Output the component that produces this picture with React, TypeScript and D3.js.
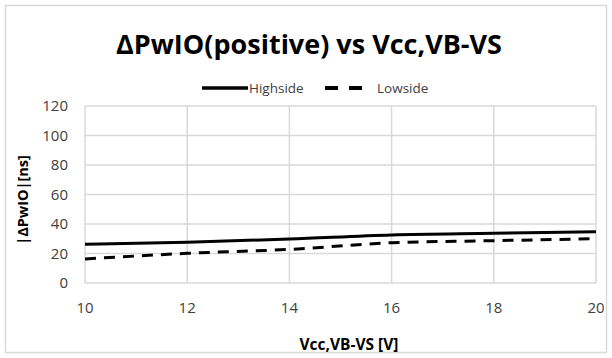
import React from "react";
import * as d3 from "d3";

const xValues = [10, 12, 14, 16, 18, 20];
const highside = [26.2, 27.6, 29.8, 32.6, 33.7, 34.8];
const lowside = [16.3, 20.1, 22.8, 27.3, 28.7, 30.0];
const yTicks = [0, 20, 40, 60, 80, 100, 120];
const xTicks = [10, 12, 14, 16, 18, 20];
const seriesNames = ["Highside", "Lowside"];

const W = 612;
const H = 358;
const plot = { left: 85, right: 596, top: 106, bottom: 283 };
const FONT = "'Open Sans', 'Noto Sans', sans-serif";

export default function App() {
  const x = d3.scaleLinear().domain([10, 20]).range([plot.left, plot.right]);
  const y = d3.scaleLinear().domain([0, 120]).range([plot.bottom, plot.top]);
  const line = d3
    .line<number>()
    .x((_, i) => x(xValues[i]))
    .y((d) => y(d))
    .curve(d3.curveMonotoneX);

  const grid = "#d9d9d9";

  return (
    <svg
      width={W}
      height={H}
      style={{ position: "absolute", left: 0, top: 0, background: "#fff" }}
      fontFamily={FONT}
    >
      <rect x={5.5} y={5.5} width={W - 11} height={H - 11} fill="#fff" stroke={grid} strokeWidth={1.5} />
      <text x={309} y={54} textAnchor="middle" fontSize={27} fontWeight="bold" fill="#000">
        ΔPwIO(positive) vs Vcc,VB-VS
      </text>

      {/* legend */}
      <line x1={202} x2={248} y1={88} y2={88} stroke="#000" strokeWidth={3.5} />
      <text x={249} y={93} fontSize={13.5} fill="#404040">{seriesNames[0]}</text>
      <line x1={325} x2={362} y1={88} y2={88} stroke="#000" strokeWidth={4} strokeDasharray="13,11" />
      <text x={377} y={93} fontSize={13.5} fill="#404040">{seriesNames[1]}</text>

      {/* grid */}
      {yTicks.map((t) => (
        <line key={"gy" + t} x1={plot.left} x2={plot.right} y1={y(t)} y2={y(t)} stroke={grid} strokeWidth={1.5} />
      ))}
      {xTicks.map((t) => (
        <line key={"gx" + t} x1={x(t)} x2={x(t)} y1={plot.top} y2={plot.bottom} stroke={grid} strokeWidth={1.5} />
      ))}

      {yTicks.map((t) => (
        <text key={"ty" + t} x={68} y={y(t) + 5} textAnchor="end" fontSize={15} fill="#404040">
          {t}
        </text>
      ))}
      {xTicks.map((t) => (
        <text key={"tx" + t} x={x(t)} y={313} textAnchor="middle" fontSize={15} fill="#404040">
          {t}
        </text>
      ))}

      <path d={line(highside) || ""} fill="none" stroke="#000" strokeWidth={3} />
      <path d={line(lowside) || ""} fill="none" stroke="#000" strokeWidth={3} strokeDasharray="11,8" />

      <text
        transform={`translate(28,200) rotate(-90)`}
        textAnchor="middle"
        fontSize={14.5}
        fontWeight="bold"
        fill="#000"
      >
        |ΔPwIO|[ns]
      </text>
      <text x={349} y={350} textAnchor="middle" fontSize={15.5} fontWeight="bold" fill="#000">
        Vcc,VB-VS [V]
      </text>
    </svg>
  );
}
